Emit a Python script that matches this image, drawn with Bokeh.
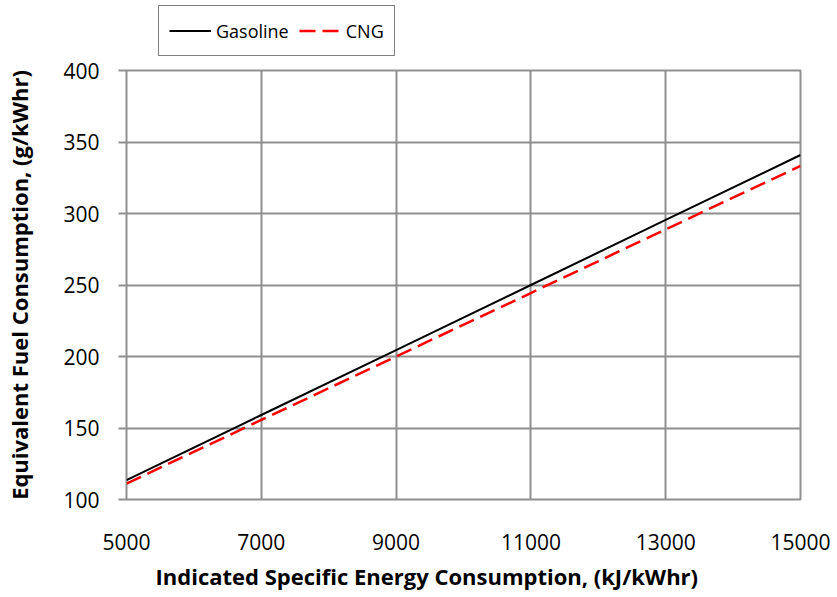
from bokeh.plotting import figure
from bokeh.layouts import column
from bokeh.models import Legend, LegendItem, FixedTicker, Title
from bokeh.embed import file_html
from bokeh.resources import INLINE

energy = [5000, 7000, 9000, 11000, 13000, 15000]
gasoline = [113.6, 159.1, 204.5, 250.0, 295.5, 340.9]
cng = [111.1, 155.6, 200.0, 244.4, 288.9, 333.3]
x_ticks = [5000, 7000, 9000, 11000, 13000, 15000]
y_ticks = [100, 150, 200, 250, 300, 350, 400]
x_title = "Indicated Specific Energy Consumption, (kJ/kWhr)"
y_title = "Equivalent Fuel Consumption, (g/kWhr)"

FONT = "Open Sans"
GRID = "#8f8f8f"
GAS_STYLE = dict(line_color="black", line_width=2)
CNG_STYLE = dict(line_color="#ff0000", line_width=2.5, line_dash="16 7")

# ---- main chart ----
p = figure(width=837, height=541, output_backend="svg", toolbar_location=None,
           x_range=(5000, 15000), y_range=(100, 400),
           min_border_left=126, min_border_right=37, min_border_top=14, min_border_bottom=98)

p.line(energy, gasoline, **GAS_STYLE)
p.line(energy, cng, **CNG_STYLE)

p.xaxis.ticker = FixedTicker(ticks=x_ticks)
p.yaxis.ticker = FixedTicker(ticks=y_ticks)
for ax in (p.xaxis, p.yaxis):
    ax.axis_line_color = None
    ax.minor_tick_line_color = None
    ax.major_label_text_font = FONT
    ax.major_label_text_font_size = "21px"
    ax.major_label_text_color = "black"
    ax.axis_label_text_font = FONT
    ax.axis_label_text_font_style = "bold"
    ax.axis_label_text_font_size = "22px"
    ax.axis_label_text_color = "black"
p.xaxis.major_tick_line_color = None
p.xaxis.major_label_standoff = 28
p.yaxis.major_tick_line_color = GRID
p.yaxis.major_tick_line_width = 2
p.yaxis.major_tick_out = 8
p.yaxis.major_tick_in = 0
p.yaxis.major_label_standoff = 19
p.yaxis.axis_label_standoff = 26
p.yaxis.axis_label = y_title

xt = Title(text=x_title, align="left", offset=29, text_font=FONT, text_font_size="22px",
           text_font_style="bold", text_color="black", standoff=12)
p.add_layout(xt, "below")

p.grid.grid_line_color = GRID
p.grid.grid_line_width = 2
p.outline_line_color = GRID
p.outline_line_width = 2

# ---- legend strip above the chart ----
top = figure(width=837, height=56, output_backend="svg", toolbar_location=None,
             x_axis_location=None, y_axis_location=None,
             x_range=(5000, 15000), y_range=(100, 400),
             min_border_left=0, min_border_right=0, min_border_top=0, min_border_bottom=0)
top.grid.visible = False
top.outline_line_color = None
g1 = top.line(energy, gasoline, visible=False, **GAS_STYLE)
g2 = top.line(energy, cng, visible=False, **CNG_STYLE)

legend = Legend(items=[LegendItem(label="Gasoline", renderers=[g1]),
                       LegendItem(label="CNG", renderers=[g2])],
                orientation="horizontal", location=(32, 0))
legend.label_text_font = FONT
legend.label_text_font_size = "18px"
legend.label_text_color = "black"
legend.label_height = 29
legend.glyph_height = 29
legend.glyph_width = 42
legend.label_standoff = 5
legend.spacing = 10
legend.padding = 10
legend.margin = 0
legend.border_line_color = "black"
legend.border_line_width = 1.5
legend.background_fill_alpha = 1
top.add_layout(legend, "center")

layout = column(top, p, spacing=0)
open("out.html", "w").write(file_html(layout, INLINE))
